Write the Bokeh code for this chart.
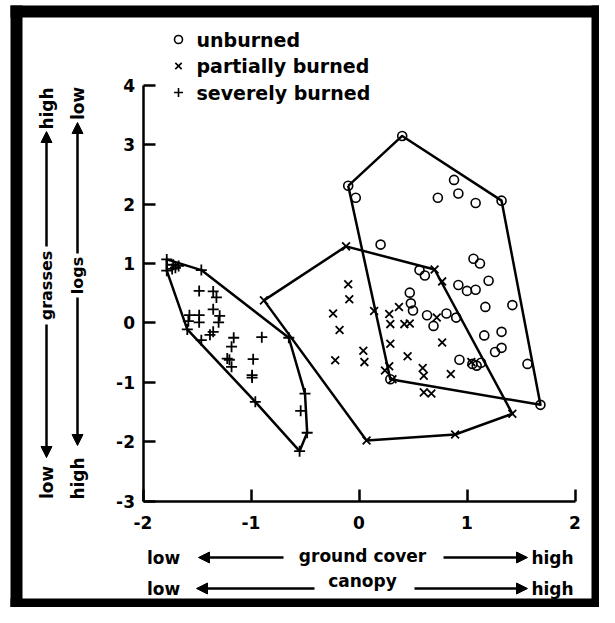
import math
from bokeh.plotting import figure
from bokeh.models import LinearAxis, FixedTicker, Arrow, NormalHead
from bokeh.core.properties import value
from bokeh.embed import file_html
from bokeh.resources import INLINE

# ---------------- data ----------------
x_ticks = [-2, -1, 0, 1, 2]
y_ticks = [-3, -2, -1, 0, 1, 2, 3, 4]

series_names = ["unburned", "partially burned", "severely burned"]

unburned_x = [-0.10, 0.40, 1.32, 1.68, 0.29,
              -0.03, 0.88, 0.92, 0.73, 1.08, 0.20, 1.06, 1.12, 1.20, 0.56, 0.61,
              0.47, 0.92, 1.00, 1.08, 1.17, 1.42, 0.48, 0.50, 0.63, 0.81, 0.90,
              0.69, 1.16, 1.32, 1.26, 1.32, 1.56, 0.93, 1.05, 1.09, 1.13]
unburned_y = [2.31, 3.15, 2.06, -1.38, -0.95,
              2.11, 2.41, 2.18, 2.11, 2.02, 1.32, 1.08, 1.00, 0.71, 0.89, 0.80,
              0.51, 0.64, 0.54, 0.56, 0.27, 0.30, 0.33, 0.21, 0.13, 0.16, 0.09,
              -0.05, -0.21, -0.15, -0.49, -0.42, -0.69, -0.62, -0.69, -0.72, -0.67]
unburned_hull = [0, 1, 2, 3, 4]

partial_x = [-0.88, -0.12, 0.70, 1.42, 0.89, 0.07,
             -0.10, -0.09, -0.24, -0.18, -0.22, 0.04, 0.05, 0.14, 0.28, 0.37,
             0.29, 0.42, 0.47, 0.29, 0.45, 0.24, 0.28, 0.31, 0.59, 0.60, 0.60,
             0.67, 0.77, 0.85, 0.77, 0.72, 1.04]
partial_y = [0.38, 1.29, 0.90, -1.53, -1.88, -1.98,
             0.65, 0.40, 0.16, -0.12, -0.63, -0.47, -0.66, 0.20, 0.15, 0.27,
             -0.02, -0.02, -0.01, -0.35, -0.56, -0.80, -0.73, -0.95, -0.76, -0.89, -1.17,
             -1.19, -0.33, -0.86, 0.70, 0.09, -0.66]
partial_hull = [0, 1, 2, 3, 4, 5]

severe_x = [-1.78, -1.46, -0.65, -0.50, -0.48, -0.55, -0.96, -1.59, -1.78,
            -1.72, -1.67, -1.73, -1.70, -1.48, -1.35, -1.32, -1.35, -1.29, -1.30,
            -1.57, -1.48, -1.58, -1.48, -1.35, -1.38, -1.46, -1.16, -1.18, -0.90,
            -1.22, -1.18, -0.98, -0.99, -0.99, -0.54, -1.20]
severe_y = [1.07, 0.89, -0.25, -1.19, -1.85, -2.16, -1.33, -0.11, 0.88,
            0.98, 0.96, 0.91, 0.93, 0.54, 0.53, 0.43, 0.23, 0.12, 0.01,
            0.13, 0.13, 0.03, 0.01, -0.15, -0.20, -0.29, -0.25, -0.40, -0.24,
            -0.60, -0.74, -0.61, -0.92, -0.88, -1.48, -0.62]
severe_hull = [0, 1, 2, 3, 4, 5, 6, 7, 8]

# ---------------- layout ----------------
W, H = 599, 607
ORIGIN = 0
# pixel anchors (picture coordinates) of the axis ends
X_LO_PX, X_HI_PX = 142.5, 574.5
Y_HI_PX, Y_LO_PX = 85.0, 500.5
sx = (X_HI_PX - X_LO_PX) / (x_ticks[-1] - x_ticks[0])
sy = (Y_LO_PX - Y_HI_PX) / (y_ticks[-1] - y_ticks[0])
XS = x_ticks[0] - (X_LO_PX - ORIGIN) / sx
XE = XS + W / sx
YE = y_ticks[-1] + (Y_HI_PX - ORIGIN) / sy
YS = YE - H / sy


def dx(px):
    return XS + (px - ORIGIN) / sx


def dy(py):
    return YE - (py - ORIGIN) / sy


FONT = value("DejaVu Sans")

p = figure(width=W, height=H, x_range=(XS, XE), y_range=(YS, YE),
           output_backend="svg", toolbar_location=None,
           x_axis_location=None, y_axis_location=None,
           min_border=0, outline_line_color=None,
           background_fill_color="white", border_fill_color="white")
p.grid.grid_line_color = None

xaxis = LinearAxis(fixed_location=y_ticks[0], bounds=(x_ticks[0], x_ticks[-1]),
                   ticker=FixedTicker(ticks=x_ticks),
                   major_label_overrides={t: str(t) for t in x_ticks})
yaxis = LinearAxis(fixed_location=x_ticks[0], bounds=(y_ticks[0], y_ticks[-1]),
                   ticker=FixedTicker(ticks=y_ticks),
                   major_label_overrides={t: str(t) for t in y_ticks})
for ax, standoff in ((xaxis, 15), (yaxis, 8)):
    ax.axis_line_width = 2.5
    ax.axis_line_color = "black"
    ax.major_tick_line_width = 2.5
    ax.major_tick_line_color = "black"
    ax.major_tick_in = 12
    ax.major_tick_out = 0
    ax.minor_tick_line_color = None
    ax.major_label_text_font = "DejaVu Sans"
    ax.major_label_text_font_style = "bold"
    ax.major_label_text_font_size = "17px"
    ax.major_label_text_color = "black"
    ax.major_label_standoff = standoff
p.add_layout(xaxis, "below")
p.add_layout(yaxis, "left")

# hulls
for xs, ys, hull in ((unburned_x, unburned_y, unburned_hull),
                     (partial_x, partial_y, partial_hull),
                     (severe_x, severe_y, severe_hull)):
    hx = [xs[i] for i in hull] + [xs[hull[0]]]
    hy = [ys[i] for i in hull] + [ys[hull[0]]]
    p.line(hx, hy, line_color="black", line_width=2.5, line_join="round")

# points
p.scatter(unburned_x, unburned_y, marker="circle", size=9, fill_color=None,
          line_color="black", line_width=1.6)
p.scatter(partial_x, partial_y, marker="x", size=11, line_color="black", line_width=1.8)
p.scatter(severe_x, severe_y, marker="cross", size=11, line_color="black", line_width=1.8)

# legend (manual)
leg_px_x = 178
leg_px_y = [39, 65.5, 92]
leg_markers = ["circle", "x", "cross"]
for name, m, py in zip(series_names, leg_markers, leg_px_y):
    p.scatter([dx(leg_px_x)], [dy(py)], marker=m, size=8 if m == "circle" else 9,
              fill_color=None, line_color="black", line_width=1.6)
p.text(x=[dx(196)] * 3, y=[dy(v) for v in leg_px_y], text=series_names,
       text_font=FONT, text_font_style="bold", text_font_size="19px",
       text_align="left", text_baseline="middle", text_color="black")


def arrow(x0, y0, x1, y1):
    p.add_layout(Arrow(end=NormalHead(size=11, fill_color="black", line_color="black"),
                       x_start=dx(x0), y_start=dy(y0), x_end=dx(x1), y_end=dy(y1),
                       line_color="black", line_width=2.5))


def label(txt, px, py, angle=0.0, size="17px"):
    p.text(x=[dx(px)], y=[dy(py)], text=[txt], angle=angle, text_font=FONT,
           text_font_style="bold", text_font_size=size, text_align="center",
           text_baseline="middle", text_color="black")


# left vertical annotations
col_a, col_b = 46, 77
label("high", col_a, 108, math.pi / 2)
arrow(col_a, 246, col_a, 131)
label("grasses", col_a, 285, math.pi / 2, "16px")
arrow(col_a, 324, col_a, 457)
label("low", col_a, 482, math.pi / 2)

label("low", col_b, 103, math.pi / 2)
arrow(col_b, 253, col_b, 122)
label("logs", col_b, 275, math.pi / 2, "16px")
arrow(col_b, 297, col_b, 445)
label("high", col_b, 478, math.pi / 2)

# bottom annotations
r1, r2 = 557, 588
label("low", 163, r1)
arrow(283, r1, 198, r1)
label("ground cover", 362, r1 - 2)
arrow(443, r1, 527, r1)
label("high", 552, r1)

label("low", 163, r2)
arrow(314, r2, 196, r2)
label("canopy", 362, r2 - 8)
arrow(414, r2, 527, r2)
label("high", 552, r2)

# thick black frame round the picture
p.quad(left=[dx(10), dx(10), dx(591), dx(10)],
       right=[dx(22), dx(599), dx(599), dx(599)],
       top=[dy(5), dy(5), dy(5), dy(598)],
       bottom=[dy(607), dy(17), dy(607), dy(607)],
       fill_color="black", line_color=None)

open("out.html", "w").write(file_html(p, INLINE))
